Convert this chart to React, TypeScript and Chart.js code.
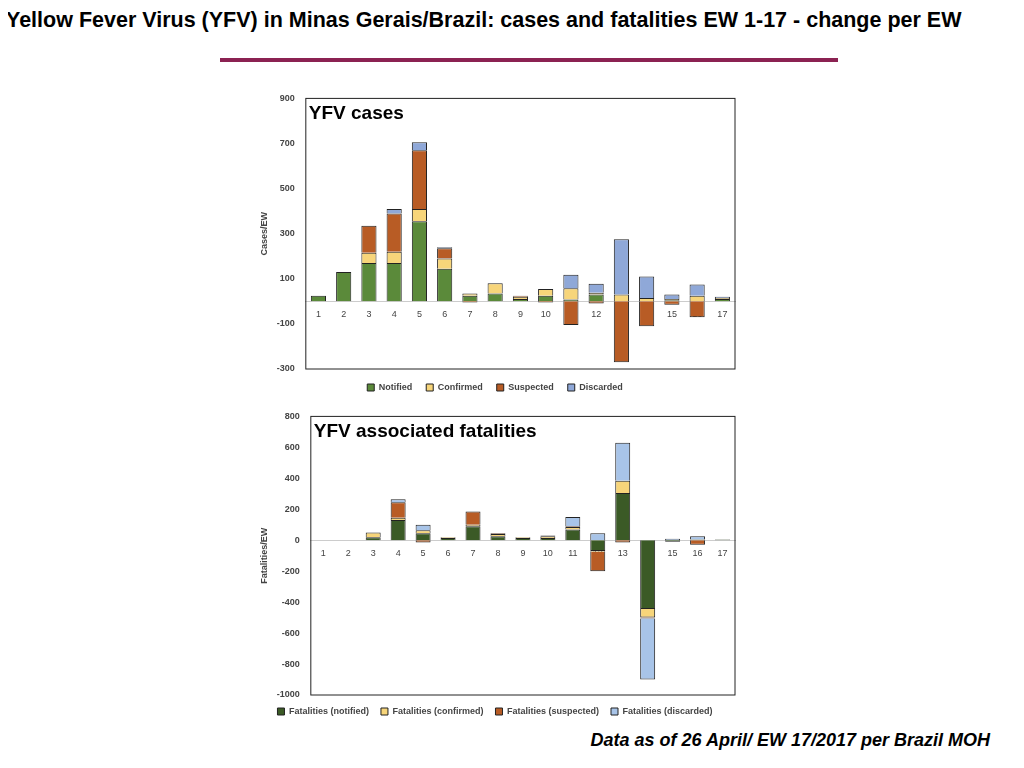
import React, { useEffect, useRef } from "react";
import { Chart, registerables } from "chart.js";
Chart.register(...registerables);

const weeks = ["1","2","3","4","5","6","7","8","9","10","11","12","13","14","15","16","17"];
const notified =   [25,130,170,170,355,145,25,35,10,25,8,30,0,0,5,0,10];
const confirmed =  [0,0,45,50,55,45,10,45,10,30,50,8,30,15,5,25,5];
const suspected =  [0,0,120,170,260,45,-5,0,5,-5,-105,-10,-270,-110,-15,-70,0];
const discarded =  [0,0,0,20,35,5,0,0,0,0,60,40,245,95,20,50,5];

const fNotified =  [0,0,20,130,45,15,90,25,15,15,70,-70,305,-445,-10,5,5];
const fConfirmed = [0,0,30,15,20,5,10,15,5,10,15,-5,80,-55,0,0,0];
const fSuspected = [0,0,0,100,-15,0,85,5,0,5,5,-125,-15,-5,0,-30,0];
const fDiscarded = [0,0,0,20,35,0,0,0,0,0,60,45,245,-395,10,20,0];

const FONT = "'Liberation Sans', Arial, sans-serif";

const innerTitle = {
  id: "innerTitle",
  afterDraw(chart: any, _a: any, opts: any) {
    const { ctx, chartArea } = chart;
    ctx.save();
    ctx.strokeStyle = "#222";
    ctx.lineWidth = 1;
    ctx.strokeRect(chartArea.left, chartArea.top, chartArea.right - chartArea.left, chartArea.bottom - chartArea.top);
    ctx.fillStyle = "#000";
    ctx.font = `bold 19px ${FONT}`;
    ctx.textBaseline = "top";
    ctx.fillText(opts.text, chartArea.left + 3, chartArea.top + 6);
    ctx.restore();
  },
};

function Bars(props: { labels: string[]; sets: any[]; min: number; max: number; yTitle: string; title: string; h: number; lpad: number }) {
  const ref = useRef<HTMLCanvasElement>(null);
  useEffect(() => {
    const c = new Chart(ref.current!, {
      type: "bar",
      data: {
        labels: props.labels,
        datasets: props.sets.map((s) => ({
          label: s.label, data: s.data, backgroundColor: s.color,
          borderColor: "#222", borderWidth: 1, barPercentage: 0.6, categoryPercentage: 1,
        })),
      },
      plugins: [innerTitle],
      options: {
        animation: false,
        responsive: false,
        layout: { padding: { right: 10 } },
        plugins: {
          innerTitle: { text: props.title },
          legend: {
            position: "bottom",
            labels: { boxWidth: 7, boxHeight: 7, padding: props.lpad, color: "#444", font: { family: FONT, size: 9, weight: "bold" } },
          },
          tooltip: { enabled: false },
        } as any,
        scales: {
          x: {
            stacked: true,
            position: { y: 0 } as any,
            grid: { display: false, drawTicks: false },
            border: { color: "#ccc" },
            ticks: { color: "#444", font: { family: FONT, size: 9 }, padding: 8 },
          },
          y: {
            stacked: true, min: props.min, max: props.max,
            grid: { display: false },
            border: { display: false },
            ticks: { stepSize: 200, color: "#444", font: { family: FONT, size: 9, weight: "bold" }, callback: (v: any) => String(v) },
            title: { display: true, text: props.yTitle, color: "#444", font: { family: FONT, size: 9, weight: "bold" } },
          },
        },
      },
    });
    return () => c.destroy();
  }, []);
  return <canvas ref={ref} width={490} height={props.h} />;
}

export default function App() {
  return (
    <div style={{ position: "relative", width: 1008, height: 752, fontFamily: FONT }}>
      <div style={{ position: "absolute", left: -2, top: -2, width: 1010, fontSize: 21.5, fontWeight: "bold", lineHeight: "29px", textAlign: "justify", textAlignLast: "left" } as any}>
        Yellow Fever Virus (YFV) in Minas Gerais/Brazil: cases and fatalities EW 1-17 - change per EW
      </div>
      <div style={{ position: "absolute", left: 212, top: 50, width: 618, height: 4, background: "#8b2252" }} />
      <div style={{ position: "absolute", left: 247, top: 82 }}>
        <Bars labels={weeks} min={-300} max={900} yTitle="Cases/EW" title="YFV cases" h={312} lpad={14}
          sets={[
            { label: "Notified", data: notified, color: "#5b8a3a" },
            { label: "Confirmed", data: confirmed, color: "#f7d57a" },
            { label: "Suspected", data: suspected, color: "#b85c25" },
            { label: "Discarded", data: discarded, color: "#8fa8d8" },
          ]} />
      </div>
      <div style={{ position: "absolute", left: 247, top: 400 }}>
        <Bars labels={weeks} min={-1000} max={800} yTitle="Fatalities/EW" title="YFV associated fatalities" h={318} lpad={12}
          sets={[
            { label: "Fatalities (notified)", data: fNotified, color: "#3b5a26" },
            { label: "Fatalities (confirmed)", data: fConfirmed, color: "#f7d57a" },
            { label: "Fatalities (suspected)", data: fSuspected, color: "#b85c25" },
            { label: "Fatalities (discarded)", data: fDiscarded, color: "#a8c4e8" },
          ]} />
      </div>
      <div style={{ position: "absolute", right: 26, top: 722, fontSize: 18, fontWeight: "bold", fontStyle: "italic" }}>
        Data as of 26 April/ EW 17/2017 per Brazil MOH
      </div>
    </div>
  );
}
